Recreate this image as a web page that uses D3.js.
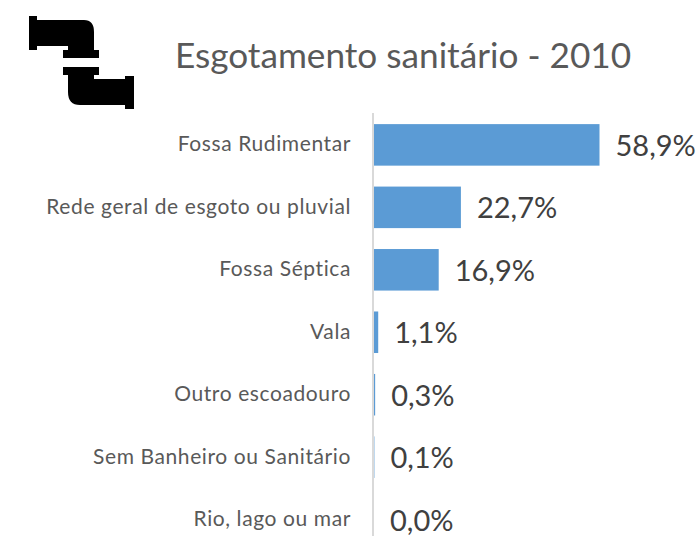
<!DOCTYPE html>
<html><head><meta charset="utf-8">
<script src="https://cdn.jsdelivr.net/npm/d3@7/dist/d3.min.js"></script>
<style>html,body{margin:0;padding:0;background:#fff;overflow:hidden}svg{display:block}text{font-family:"Lato",sans-serif}</style>
</head><body><svg id="c" width="700" height="536"></svg>
<script>
const categories=["Fossa Rudimentar","Rede geral de esgoto ou pluvial","Fossa Séptica","Vala","Outro escoadouro","Sem Banheiro ou Sanitário","Rio, lago ou mar"];
const values=[58.9,22.7,16.9,1.1,0.3,0.1,0.0];
const title="Esgotamento sanitário - 2010";
const svg=d3.select("#c");
const x=d3.scaleLinear().domain([0,58.9]).range([374,599.5]);
const y=d3.scaleBand().domain(categories).range([113.5,551]).paddingInner(0.335).paddingOuter(0.17);
const fmt=v=>v.toFixed(1).replace(".",",")+"%";
// icon
const icon=svg.append("g").attr("fill","#000");
icon.append("path").attr("d","M29 16H37V20H84Q94 20 94 32V50H99V58H63V50H68V46H37V50H29Z");
icon.append("path").attr("d","M63 67H99V75H94V79H125V76H134V109H125V105H80Q68 105 68 92V75H63Z");
svg.append("text").attr("x",175).attr("y",68).attr("font-size",35.2).attr("fill","#595959").text(title);
// axis line
svg.append("line").attr("x1",373).attr("x2",373).attr("y1",113).attr("y2",536).attr("stroke","#d9d9d9").attr("stroke-width",2);
svg.selectAll("rect.b").data(values).join("rect").attr("class","b")
 .attr("x",x(0)).attr("y",(d,i)=>y(categories[i])).attr("width",d=>x(d)-x(0)).attr("height",y.bandwidth()).attr("fill","#5b9bd5");
svg.selectAll("text.c").data(categories).join("text").attr("class","c")
 .attr("x",351).attr("y",d=>y(d)+y.bandwidth()/2-1).attr("dy","0.35em").attr("text-anchor","end").attr("font-size",21).attr("letter-spacing",0.6).attr("fill","#595959").text(d=>d);
svg.selectAll("text.v").data(values).join("text").attr("class","v")
 .attr("x",d=>x(d)+16).attr("y",(d,i)=>y(categories[i])+y.bandwidth()/2+1).attr("dy","0.35em").attr("font-size",29).attr("fill","#404040").text(fmt);
</script></body></html>
